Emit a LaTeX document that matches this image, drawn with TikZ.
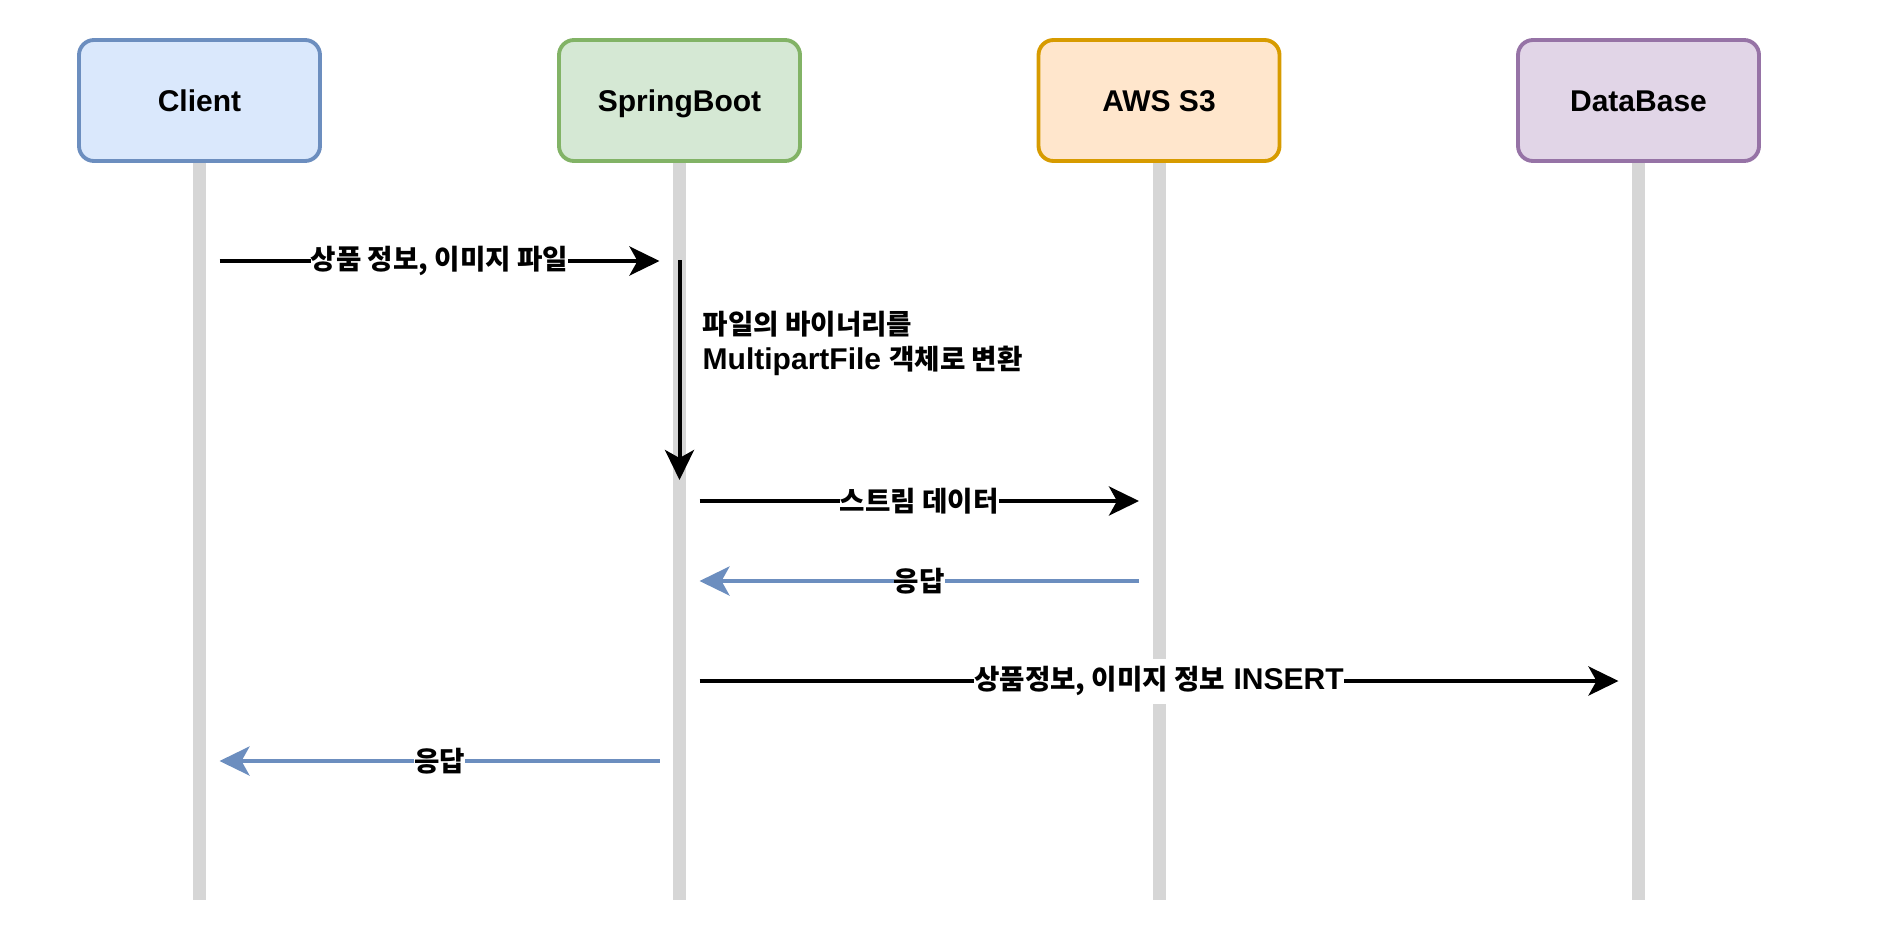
\documentclass[tikz,border=0pt]{standalone}
\usepackage{fontspec}
\setmainfont{Liberation Sans}
\newfontfamily\krfont[Scale=0.92]{Noto Sans CJK KR}
\newcommand{\kr}[1]{{\krfont #1}}
\usetikzlibrary{arrows.meta}

\definecolor{clientfill}{HTML}{DAE8FC}
\definecolor{clientdraw}{HTML}{6C8EBF}
\definecolor{springfill}{HTML}{D5E8D4}
\definecolor{springdraw}{HTML}{82B366}
\definecolor{sthreefill}{HTML}{FFE6CC}
\definecolor{sthreedraw}{HTML}{D79B00}
\definecolor{dbfill}{HTML}{E1D5E7}
\definecolor{dbdraw}{HTML}{9673A6}
\definecolor{lifegray}{HTML}{D6D6D6}
\definecolor{replyblue}{HTML}{6C8EBF}

\begin{document}
\begin{tikzpicture}[
    font=\fontsize{8.54}{9.96}\selectfont\bfseries,
    actor/.style={draw, line width=1.1pt, rounded corners=0.15cm, minimum width=2.41cm, minimum height=1.21cm, align=center, text height=1.6ex, text depth=0.45ex},
    lifeline/.style={line width=0.13cm, lifegray},
    msg/.style={line width=0.04cm, -{Stealth[length=0.3cm, width=0.29cm, inset=0.08cm]}, shorten <=0.2cm, shorten >=0.2cm},
    reply/.style={msg, draw=replyblue},
    msglabel/.style={fill=white, text=black, inner xsep=0pt, inner ysep=0pt, minimum height=0.45cm},
]
    \useasboundingbox (0,0) rectangle (18.8,-9.44);

    % Participants
    \node[actor, fill=clientfill, draw=clientdraw] (client) at (1.995, -1.005) {Client};
    \node[actor, fill=springfill, draw=springdraw] (spring) at (6.795, -1.005) {SpringBoot};
    \node[actor, fill=sthreefill, draw=sthreedraw] (s3) at (11.59, -1.005) {AWS S3};
    \node[actor, fill=dbfill, draw=dbdraw] (db) at (16.385, -1.005) {DataBase};

    % Lifelines
    \foreach \p in {client, spring, s3, db} {
        \coordinate (\p-end) at (\p |- 0,-9.0);
        \draw[lifeline] (\p.south) -- (\p-end);
    }

    % Message points
    \coordinate (client-req) at (client |- 0,-2.61);
    \coordinate (spring-req) at (spring |- 0,-2.61);
    \coordinate (spring-top) at (spring |- 0,-2.60);
    \coordinate (spring-bot) at (spring |- 0,-4.80);
    \coordinate (spring-put) at (spring |- 0,-5.01);
    \coordinate (s3-put) at (s3 |- 0,-5.01);
    \coordinate (s3-ack) at (s3 |- 0,-5.81);
    \coordinate (spring-ack) at (spring |- 0,-5.81);
    \coordinate (spring-ins) at (spring |- 0,-6.81);
    \coordinate (db-ins) at (db |- 0,-6.81);
    \coordinate (spring-res) at (spring |- 0,-7.61);
    \coordinate (client-res) at (client |- 0,-7.61);

    % Messages
    \draw[msg] (client-req) -- node[msglabel] {\kr{상품 정보, 이미지 파일}} (spring-req);
    \draw[msg, shorten <=0pt, shorten >=0pt] (spring-top) -- (spring-bot);
    \node[anchor=west, align=left, inner sep=0pt] (convert) at (7.02, -3.43)
        {\kr{파일의 바이너리를}\\MultipartFile \kr{객체로 변환}};
    \draw[msg] (spring-put) -- node[msglabel] {\kr{스트림 데이터}} (s3-put);
    \draw[reply] (s3-ack) -- node[msglabel] {\kr{응답}} (spring-ack);
    \draw[msg] (spring-ins) -- node[msglabel] {\kr{상품정보, 이미지 정보} INSERT} (db-ins);
    \draw[reply] (spring-res) -- node[msglabel] {\kr{응답}} (client-res);
\end{tikzpicture}
\end{document}
